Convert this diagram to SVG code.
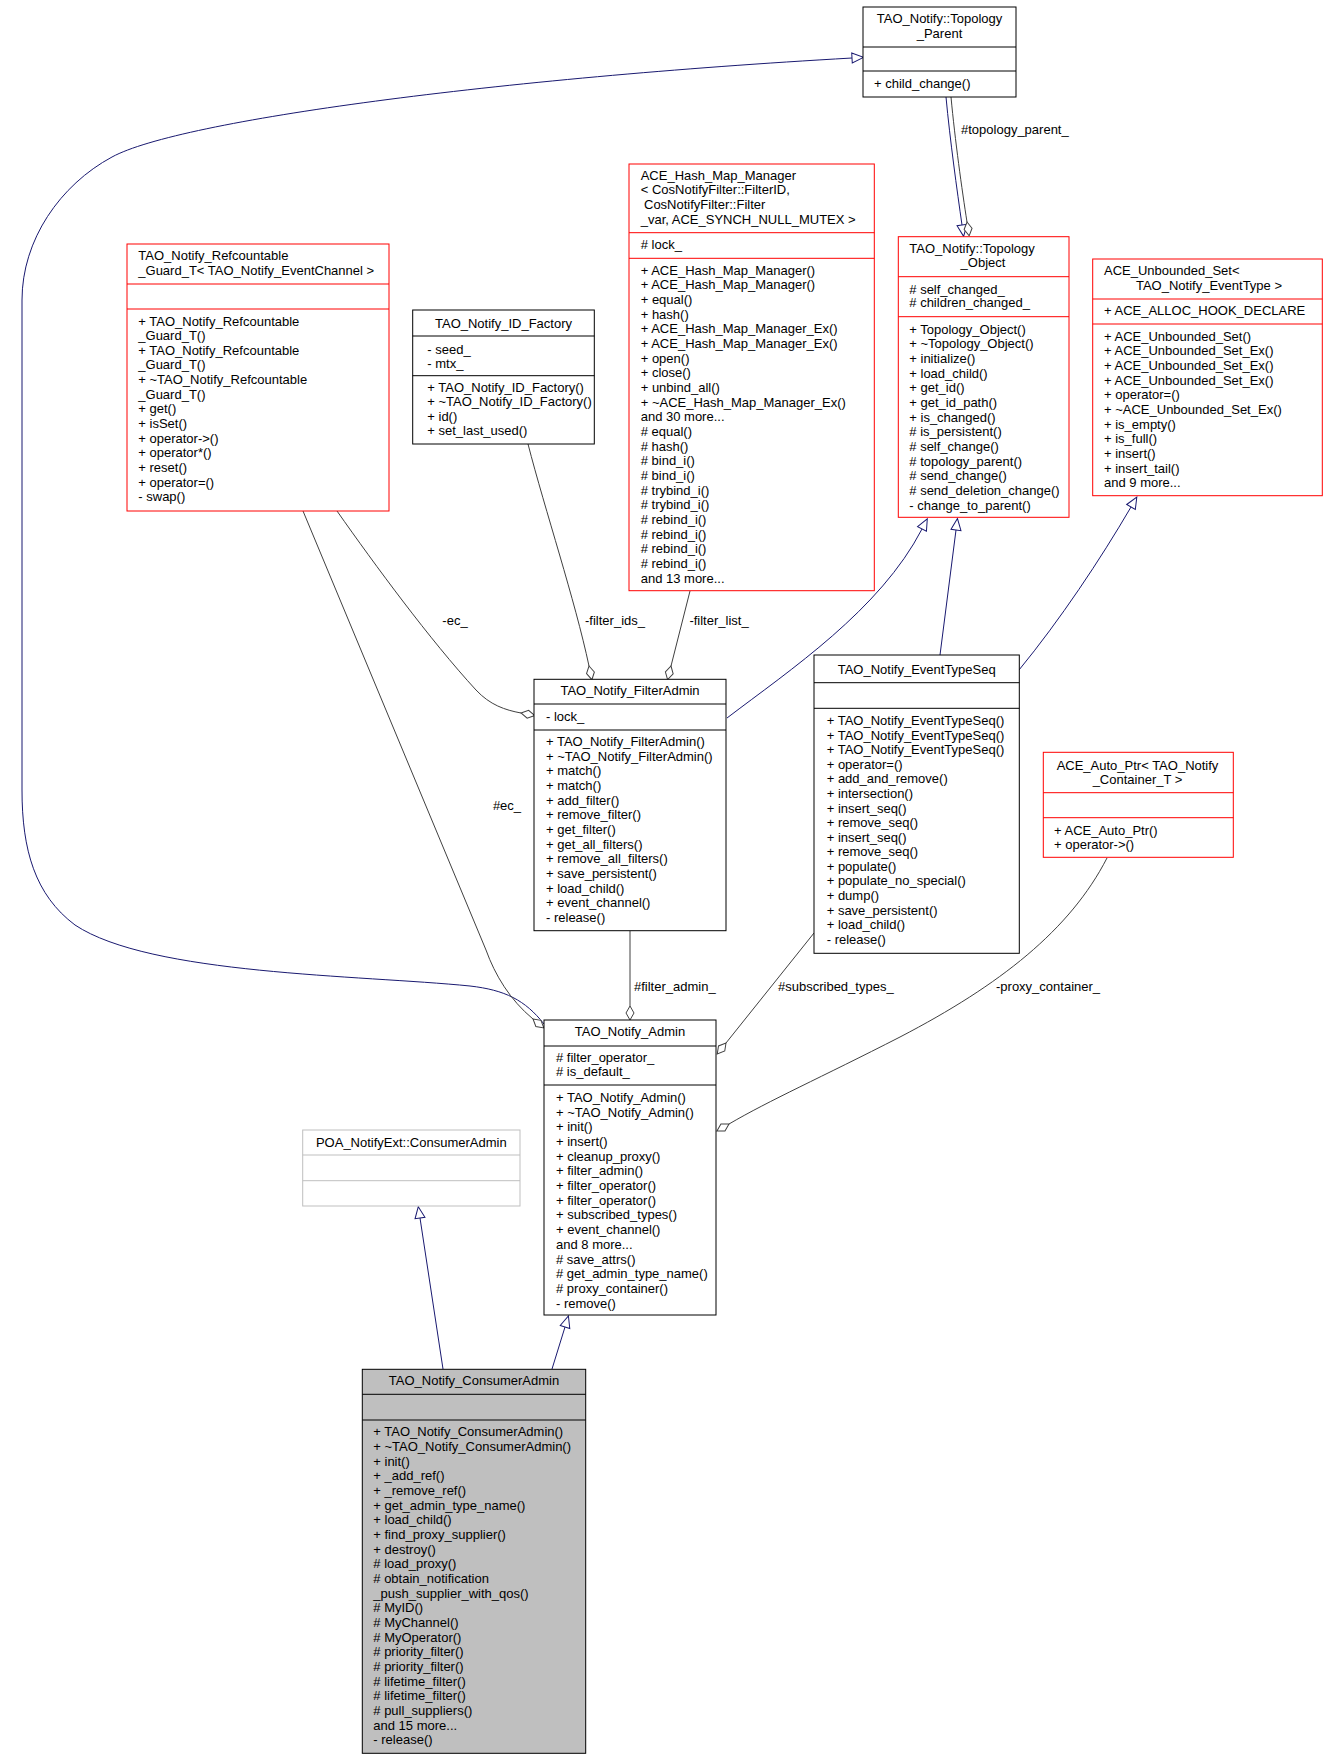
<svg xmlns="http://www.w3.org/2000/svg" width="1328" height="1760" viewBox="0 0 1328 1760">
<style>
.t{font-family:"Liberation Sans",Arial,Helvetica,sans-serif;font-size:13px;fill:#000}
.c{text-anchor:middle}
.box{fill:#fff;stroke:#000;stroke-width:1}
.red{stroke:#ff0000}
.gry{stroke:#bfbfbf}
.sel{fill:#bfbfbf}
.div{stroke:#000;stroke-width:1}
.divr{stroke:#ff0000;stroke-width:1}
.divg{stroke:#bfbfbf;stroke-width:1}
.inh{fill:none;stroke:#191970;stroke-width:1;marker-end:url(#inh)}
.agg{fill:none;stroke:#404040;stroke-width:1;marker-end:url(#agg)}
</style>
<defs>
<marker id="inh" markerUnits="userSpaceOnUse" markerWidth="14" markerHeight="14" refX="0" refY="0" orient="auto" overflow="visible"><path d="M0,-5 L11.5,0 L0,5 Z" fill="#fff" stroke="#191970"/></marker>
<marker id="agg" markerUnits="userSpaceOnUse" markerWidth="16" markerHeight="10" refX="0" refY="0" orient="auto" overflow="visible"><path d="M0,0 L7,-4 L14,0 L7,4 Z" fill="#fff" stroke="#404040"/></marker>
</defs>
<rect width="1328" height="1760" fill="#fff"/>
<g id="edges">
<path class="inh" d="M544,1024 C525,1000 505,990 470,986 C360,975 150,975 75,925 C35,895 22,850 22,790 L22,300 C22,240 60,185 112,157 C180,120 500,78 852,58"/>
<path class="agg" d="M303,511 L486,950 C495,975 510,1000 533,1019"/>
<text class="t c" x="507" y="810">#ec_</text>
<path class="agg" d="M337,511 C375,565 430,640 476,690 C490,705 505,710 521,713"/>
<text class="t c" x="455" y="625">-ec_</text>
<path class="agg" d="M528,444 C545,510 575,600 589,666"/>
<text class="t c" x="615" y="625">-filter_ids_</text>
<path class="agg" d="M690,591 L671,666"/>
<text class="t c" x="719" y="625">-filter_list_</text>
<path class="inh" d="M727,718 C790,670 880,610 922,529"/>
<path class="inh" d="M940,655 L956,530"/>
<path class="inh" d="M1019,670 C1060,620 1100,560 1131,507"/>
<path class="inh" d="M946,97 C950,140 957,190 962,225"/>
<path class="agg" d="M951,97 C955,140 962,190 967,222"/>
<text class="t" x="961" y="133.5">#topology_parent_</text>
<path class="agg" d="M630,931 L630,1006"/>
<text class="t" x="634" y="990.5">#filter_admin_</text>
<path class="agg" d="M814,933 L726,1043"/>
<text class="t" x="778" y="990.5">#subscribed_types_</text>
<path class="agg" d="M1107,858 C1070,930 1000,985 900,1037 C820,1078 770,1100 729,1124"/>
<text class="t" x="996" y="990.5">-proxy_container_</text>
<path class="inh" d="M552,1369 L565,1327"/>
<path class="inh" d="M443,1369 L420,1218"/>
</g>
<g id="TopologyParent">
<rect class="box" x="863" y="7" width="153" height="90"/>
<line class="div" x1="863" y1="47" x2="1016" y2="47"/><line class="div" x1="863" y1="71" x2="1016" y2="71"/>
<text class="t c" x="939.5" y="23">TAO_Notify::Topology</text>
<text class="t c" x="939.5" y="37.5">_Parent</text>
<text class="t" x="874" y="87.5">+ child_change()</text>
</g>
<g id="Refcountable">
<rect class="box red" x="127" y="244" width="262" height="267"/>
<line class="divr" x1="127" y1="284" x2="389" y2="284"/><line class="divr" x1="127" y1="309" x2="389" y2="309"/>
<text class="t" x="138.3" y="260.2">TAO_Notify_Refcountable</text>
<text class="t" x="138.3" y="274.8">_Guard_T&lt; TAO_Notify_EventChannel &gt;</text>
<text class="t" y="325.5"><tspan x="138.3">+ TAO_Notify_Refcountable</tspan><tspan x="138.3" dy="14.64">_Guard_T()</tspan><tspan x="138.3" dy="14.64">+ TAO_Notify_Refcountable</tspan><tspan x="138.3" dy="14.64">_Guard_T()</tspan><tspan x="138.3" dy="14.64">+ ~TAO_Notify_Refcountable</tspan><tspan x="138.3" dy="14.64">_Guard_T()</tspan><tspan x="138.3" dy="14.64">+ get()</tspan><tspan x="138.3" dy="14.64">+ isSet()</tspan><tspan x="138.3" dy="14.64">+ operator-&gt;()</tspan><tspan x="138.3" dy="14.64">+ operator*()</tspan><tspan x="138.3" dy="14.64">+ reset()</tspan><tspan x="138.3" dy="14.64">+ operator=()</tspan><tspan x="138.3" dy="14.64">- swap()</tspan></text>
</g>
<g id="IDFactory">
<rect class="box" x="412.7" y="310" width="181.6" height="134"/>
<line class="div" x1="412.7" y1="336" x2="594.3" y2="336"/><line class="div" x1="412.7" y1="375.7" x2="594.3" y2="375.7"/>
<text class="t c" x="503.5" y="327.8">TAO_Notify_ID_Factory</text>
<text class="t" y="353.8"><tspan x="427.3">- seed_</tspan><tspan x="427.3" dy="14.6">- mtx_</tspan></text>
<text class="t" y="391.8"><tspan x="427.3">+ TAO_Notify_ID_Factory()</tspan><tspan x="427.3" dy="14.4">+ ~TAO_Notify_ID_Factory()</tspan><tspan x="427.3" dy="14.4">+ id()</tspan><tspan x="427.3" dy="14.4">+ set_last_used()</tspan></text>
</g>
<g id="HashMap">
<rect class="box red" x="629" y="164" width="245.3" height="426.7"/>
<line class="divr" x1="629" y1="232.7" x2="874.3" y2="232.7"/><line class="divr" x1="629" y1="258.3" x2="874.3" y2="258.3"/>
<text class="t" x="640.7" y="179.5">ACE_Hash_Map_Manager</text>
<text class="t" x="640.7" y="194.2">&lt; CosNotifyFilter::FilterID,</text>
<text class="t" x="644" y="208.8">CosNotifyFilter::Filter</text>
<text class="t" x="640.7" y="223.5">_var, ACE_SYNCH_NULL_MUTEX &gt;</text>
<text class="t" x="640.7" y="248.8"># lock_</text>
<text class="t" y="274.5"><tspan x="640.7">+ ACE_Hash_Map_Manager()</tspan><tspan x="640.7" dy="14.68">+ ACE_Hash_Map_Manager()</tspan><tspan x="640.7" dy="14.68">+ equal()</tspan><tspan x="640.7" dy="14.68">+ hash()</tspan><tspan x="640.7" dy="14.68">+ ACE_Hash_Map_Manager_Ex()</tspan><tspan x="640.7" dy="14.68">+ ACE_Hash_Map_Manager_Ex()</tspan><tspan x="640.7" dy="14.68">+ open()</tspan><tspan x="640.7" dy="14.68">+ close()</tspan><tspan x="640.7" dy="14.68">+ unbind_all()</tspan><tspan x="640.7" dy="14.68">+ ~ACE_Hash_Map_Manager_Ex()</tspan><tspan x="640.7" dy="14.68">and 30 more...</tspan><tspan x="640.7" dy="14.68"># equal()</tspan><tspan x="640.7" dy="14.68"># hash()</tspan><tspan x="640.7" dy="14.68"># bind_i()</tspan><tspan x="640.7" dy="14.68"># bind_i()</tspan><tspan x="640.7" dy="14.68"># trybind_i()</tspan><tspan x="640.7" dy="14.68"># trybind_i()</tspan><tspan x="640.7" dy="14.68"># rebind_i()</tspan><tspan x="640.7" dy="14.68"># rebind_i()</tspan><tspan x="640.7" dy="14.68"># rebind_i()</tspan><tspan x="640.7" dy="14.68"># rebind_i()</tspan><tspan x="640.7" dy="14.68">and 13 more...</tspan></text>
</g>
<g id="TopologyObject">
<rect class="box red" x="898.3" y="236.7" width="170.7" height="280.6"/>
<line class="divr" x1="898.3" y1="276.7" x2="1069" y2="276.7"/><line class="divr" x1="898.3" y1="316.7" x2="1069" y2="316.7"/>
<text class="t" x="909.3" y="252.8">TAO_Notify::Topology</text>
<text class="t c" x="983" y="267.2">_Object</text>
<text class="t" y="293.6"><tspan x="909.3"># self_changed_</tspan><tspan x="909.3" dy="13.6"># children_changed_</tspan></text>
<text class="t" y="333.5"><tspan x="909.3">+ Topology_Object()</tspan><tspan x="909.3" dy="14.67">+ ~Topology_Object()</tspan><tspan x="909.3" dy="14.67">+ initialize()</tspan><tspan x="909.3" dy="14.67">+ load_child()</tspan><tspan x="909.3" dy="14.67">+ get_id()</tspan><tspan x="909.3" dy="14.67">+ get_id_path()</tspan><tspan x="909.3" dy="14.67">+ is_changed()</tspan><tspan x="909.3" dy="14.67"># is_persistent()</tspan><tspan x="909.3" dy="14.67"># self_change()</tspan><tspan x="909.3" dy="14.67"># topology_parent()</tspan><tspan x="909.3" dy="14.67"># send_change()</tspan><tspan x="909.3" dy="14.67"># send_deletion_change()</tspan><tspan x="909.3" dy="14.67">- change_to_parent()</tspan></text>
</g>
<g id="UnboundedSet">
<rect class="box red" x="1092.7" y="259" width="229.6" height="236.7"/>
<line class="divr" x1="1092.7" y1="299" x2="1322.3" y2="299"/><line class="divr" x1="1092.7" y1="324" x2="1322.3" y2="324"/>
<text class="t" x="1104" y="275.2">ACE_Unbounded_Set&lt;</text>
<text class="t c" x="1209" y="289.5">TAO_Notify_EventType &gt;</text>
<text class="t" x="1104" y="315.2">+ ACE_ALLOC_HOOK_DECLARE</text>
<text class="t" y="340.5"><tspan x="1104">+ ACE_Unbounded_Set()</tspan><tspan x="1104" dy="14.67">+ ACE_Unbounded_Set_Ex()</tspan><tspan x="1104" dy="14.67">+ ACE_Unbounded_Set_Ex()</tspan><tspan x="1104" dy="14.67">+ ACE_Unbounded_Set_Ex()</tspan><tspan x="1104" dy="14.67">+ operator=()</tspan><tspan x="1104" dy="14.67">+ ~ACE_Unbounded_Set_Ex()</tspan><tspan x="1104" dy="14.67">+ is_empty()</tspan><tspan x="1104" dy="14.67">+ is_full()</tspan><tspan x="1104" dy="14.67">+ insert()</tspan><tspan x="1104" dy="14.67">+ insert_tail()</tspan><tspan x="1104" dy="14.67">and 9 more...</tspan></text>
</g>
<g id="FilterAdmin">
<rect class="box" x="534" y="679.3" width="192" height="251.4"/>
<line class="div" x1="534" y1="704" x2="726" y2="704"/><line class="div" x1="534" y1="730" x2="726" y2="730"/>
<text class="t c" x="630" y="695.2">TAO_Notify_FilterAdmin</text>
<text class="t" x="546" y="721.2">- lock_</text>
<text class="t" y="746.2"><tspan x="546">+ TAO_Notify_FilterAdmin()</tspan><tspan x="546" dy="14.63">+ ~TAO_Notify_FilterAdmin()</tspan><tspan x="546" dy="14.63">+ match()</tspan><tspan x="546" dy="14.63">+ match()</tspan><tspan x="546" dy="14.63">+ add_filter()</tspan><tspan x="546" dy="14.63">+ remove_filter()</tspan><tspan x="546" dy="14.63">+ get_filter()</tspan><tspan x="546" dy="14.63">+ get_all_filters()</tspan><tspan x="546" dy="14.63">+ remove_all_filters()</tspan><tspan x="546" dy="14.63">+ save_persistent()</tspan><tspan x="546" dy="14.63">+ load_child()</tspan><tspan x="546" dy="14.63">+ event_channel()</tspan><tspan x="546" dy="14.63">- release()</tspan></text>
</g>
<g id="EventTypeSeq">
<rect class="box" x="814" y="655" width="205.3" height="298.3"/>
<line class="div" x1="814" y1="682.7" x2="1019.3" y2="682.7"/><line class="div" x1="814" y1="708.3" x2="1019.3" y2="708.3"/>
<text class="t c" x="916.7" y="673.8">TAO_Notify_EventTypeSeq</text>
<text class="t" y="725.2"><tspan x="826.7">+ TAO_Notify_EventTypeSeq()</tspan><tspan x="826.7" dy="14.57">+ TAO_Notify_EventTypeSeq()</tspan><tspan x="826.7" dy="14.57">+ TAO_Notify_EventTypeSeq()</tspan><tspan x="826.7" dy="14.57">+ operator=()</tspan><tspan x="826.7" dy="14.57">+ add_and_remove()</tspan><tspan x="826.7" dy="14.57">+ intersection()</tspan><tspan x="826.7" dy="14.57">+ insert_seq()</tspan><tspan x="826.7" dy="14.57">+ remove_seq()</tspan><tspan x="826.7" dy="14.57">+ insert_seq()</tspan><tspan x="826.7" dy="14.57">+ remove_seq()</tspan><tspan x="826.7" dy="14.57">+ populate()</tspan><tspan x="826.7" dy="14.57">+ populate_no_special()</tspan><tspan x="826.7" dy="14.57">+ dump()</tspan><tspan x="826.7" dy="14.57">+ save_persistent()</tspan><tspan x="826.7" dy="14.57">+ load_child()</tspan><tspan x="826.7" dy="14.57">- release()</tspan></text>
</g>
<g id="AutoPtr">
<rect class="box red" x="1043.3" y="752.3" width="190" height="105"/>
<line class="divr" x1="1043.3" y1="792.7" x2="1233.3" y2="792.7"/><line class="divr" x1="1043.3" y1="817.7" x2="1233.3" y2="817.7"/>
<text class="t c" x="1137.5" y="770.2">ACE_Auto_Ptr&lt; TAO_Notify</text>
<text class="t c" x="1137.5" y="783.5">_Container_T &gt;</text>
<text class="t" y="834.5"><tspan x="1054">+ ACE_Auto_Ptr()</tspan><tspan x="1054" dy="14.3">+ operator-&gt;()</tspan></text>
</g>
<g id="POAConsumerAdmin">
<rect class="box gry" x="302.7" y="1130" width="217.3" height="76"/>
<line class="divg" x1="302.7" y1="1155" x2="520" y2="1155"/><line class="divg" x1="302.7" y1="1180.7" x2="520" y2="1180.7"/>
<text class="t c" x="411.3" y="1147.2">POA_NotifyExt::ConsumerAdmin</text>
</g>
<g id="Admin">
<rect class="box" x="544" y="1020" width="172" height="295"/>
<line class="div" x1="544" y1="1046" x2="716" y2="1046"/><line class="div" x1="544" y1="1085" x2="716" y2="1085"/>
<text class="t c" x="630" y="1036.2">TAO_Notify_Admin</text>
<text class="t" y="1061.8"><tspan x="556"># filter_operator_</tspan><tspan x="556" dy="14.4"># is_default_</tspan></text>
<text class="t" y="1101.8"><tspan x="556">+ TAO_Notify_Admin()</tspan><tspan x="556" dy="14.71">+ ~TAO_Notify_Admin()</tspan><tspan x="556" dy="14.71">+ init()</tspan><tspan x="556" dy="14.71">+ insert()</tspan><tspan x="556" dy="14.71">+ cleanup_proxy()</tspan><tspan x="556" dy="14.71">+ filter_admin()</tspan><tspan x="556" dy="14.71">+ filter_operator()</tspan><tspan x="556" dy="14.71">+ filter_operator()</tspan><tspan x="556" dy="14.71">+ subscribed_types()</tspan><tspan x="556" dy="14.71">+ event_channel()</tspan><tspan x="556" dy="14.71">and 8 more...</tspan><tspan x="556" dy="14.71"># save_attrs()</tspan><tspan x="556" dy="14.71"># get_admin_type_name()</tspan><tspan x="556" dy="14.71"># proxy_container()</tspan><tspan x="556" dy="14.71">- remove()</tspan></text>
</g>
<g id="ConsumerAdmin">
<rect class="box sel" x="362.3" y="1369.3" width="223.4" height="384"/>
<line class="div" x1="362.3" y1="1394.3" x2="585.7" y2="1394.3"/><line class="div" x1="362.3" y1="1420" x2="585.7" y2="1420"/>
<text class="t c" x="474" y="1385.2">TAO_Notify_ConsumerAdmin</text>
<text class="t" y="1436.2"><tspan x="373.3">+ TAO_Notify_ConsumerAdmin()</tspan><tspan x="373.3" dy="14.68">+ ~TAO_Notify_ConsumerAdmin()</tspan><tspan x="373.3" dy="14.68">+ init()</tspan><tspan x="373.3" dy="14.68">+ _add_ref()</tspan><tspan x="373.3" dy="14.68">+ _remove_ref()</tspan><tspan x="373.3" dy="14.68">+ get_admin_type_name()</tspan><tspan x="373.3" dy="14.68">+ load_child()</tspan><tspan x="373.3" dy="14.68">+ find_proxy_supplier()</tspan><tspan x="373.3" dy="14.68">+ destroy()</tspan><tspan x="373.3" dy="14.68"># load_proxy()</tspan><tspan x="373.3" dy="14.68"># obtain_notification</tspan><tspan x="373.3" dy="14.68">_push_supplier_with_qos()</tspan><tspan x="373.3" dy="14.68"># MyID()</tspan><tspan x="373.3" dy="14.68"># MyChannel()</tspan><tspan x="373.3" dy="14.68"># MyOperator()</tspan><tspan x="373.3" dy="14.68"># priority_filter()</tspan><tspan x="373.3" dy="14.68"># priority_filter()</tspan><tspan x="373.3" dy="14.68"># lifetime_filter()</tspan><tspan x="373.3" dy="14.68"># lifetime_filter()</tspan><tspan x="373.3" dy="14.68"># pull_suppliers()</tspan><tspan x="373.3" dy="14.68">and 15 more...</tspan><tspan x="373.3" dy="14.68">- release()</tspan></text>
</g>
</svg>
